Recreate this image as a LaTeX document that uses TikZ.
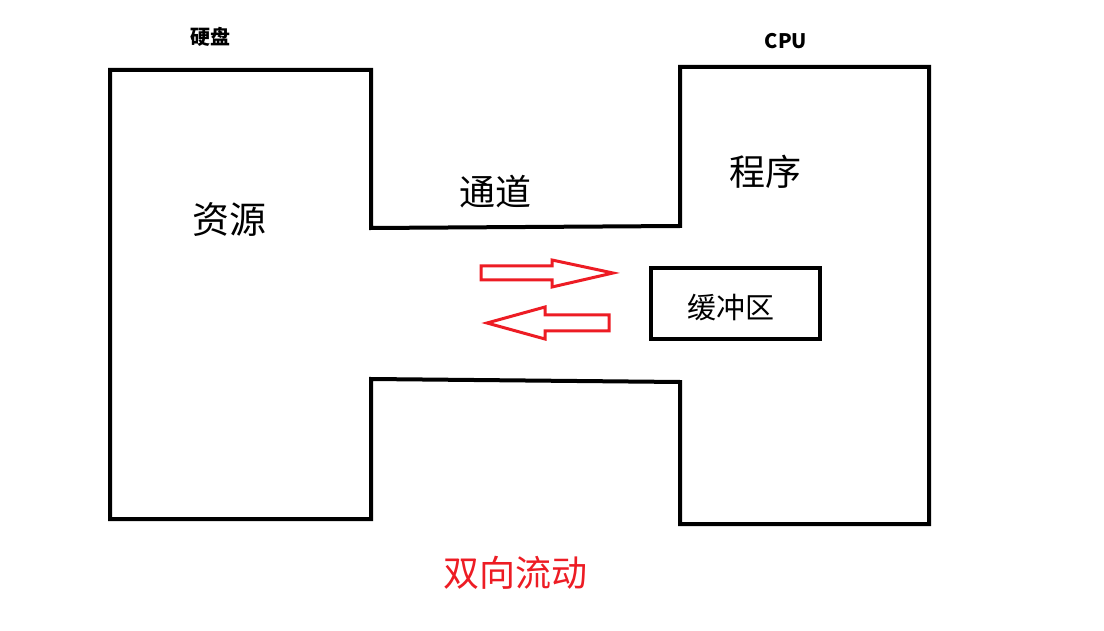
\documentclass[tikz,border=0pt]{standalone}
\usepackage{fontspec}
\setmainfont{Noto Sans CJK SC}
\definecolor{paintred}{HTML}{ED1C24}
\begin{document}
\begin{tikzpicture}[x=1pt,y=-1pt,
  wall/.style={line width=4pt,draw=black,line join=miter},
  flow/.style={line width=3pt,draw=paintred,line join=miter},
  lbl/.style={inner sep=0pt,text=black},
  bufbox/.style={draw=black,line width=4pt,minimum width=169pt,minimum height=71pt,inner sep=0pt}]
\useasboundingbox (0,0) rectangle (1104,631);
% outline of disk, channel and cpu
\draw[wall] (110,70) -- (371,70) -- (371,228) -- (680,226) -- (680,67) -- (929,67)
  -- (929,524) -- (680,524) -- (680,382) -- (371,379) -- (371,519) -- (110,519) -- cycle;
% labels
\node[lbl,font=\fontsize{20}{22}\selectfont\bfseries] (disk) at (210,37) {硬盘};
\node[lbl,font=\fontsize{20}{22}\selectfont\bfseries] (cpu) at (786,41) {CPU};
\node[lbl,font=\fontsize{37}{40}\selectfont] (res) at (229,220) {资源};
\node[lbl,font=\fontsize{36}{40}\selectfont] (chan) at (495,192) {通道};
\node[lbl,font=\fontsize{36}{40}\selectfont] (prog) at (765,172) {程序};
\node[bufbox] (buf) at (735.5,303.5) {};
\node[lbl,font=\fontsize{29}{32}\selectfont] (buftext) at (731,308) {缓冲区};
\node[lbl,font=\fontsize{36}{40}\selectfont,text=paintred] (both) at (515,573) {双向流动};
% red outline arrows
\draw[flow] (481,266) -- (552,266) -- (552,260) -- (613,273) -- (552,287) -- (552,280) -- (481,280) -- cycle;
\draw[flow] (609,315) -- (545,315) -- (545,307) -- (487,323) -- (545,339) -- (545,331) -- (609,331) -- cycle;
\end{tikzpicture}
\end{document}
